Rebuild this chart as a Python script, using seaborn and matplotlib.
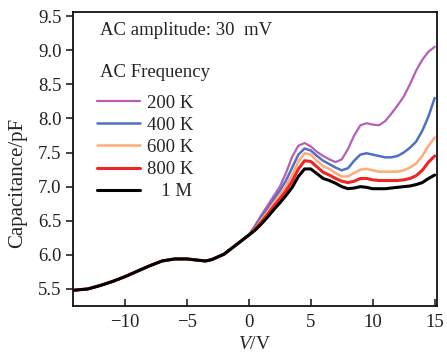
import numpy as np
import pandas as pd
import matplotlib
matplotlib.use("Agg")
import matplotlib.pyplot as plt
import seaborn as sns

voltage = [-14.2, -13, -12, -11, -10, -9, -8, -7, -6, -5, -4, -3.5, -3, -2, -1, 0,
           0.5, 1, 1.5, 2, 2.5, 3, 3.5, 4, 4.5, 5, 5.5, 6, 6.5, 7, 7.5, 8, 8.5, 9,
           9.5, 10, 10.5, 11, 11.5, 12, 12.5, 13, 13.5, 14, 14.5, 15]

common = [5.48, 5.50, 5.55, 5.61, 5.68, 5.76, 5.84, 5.91, 5.94, 5.94, 5.92, 5.91,
          5.93, 6.01, 6.15, 6.29]

c_200k = common + [6.43, 6.58, 6.72, 6.86, 7.00, 7.20, 7.44, 7.60, 7.64, 7.59, 7.51,
                   7.45, 7.40, 7.36, 7.40, 7.55, 7.75, 7.90, 7.93, 7.91, 7.90, 7.96,
                   8.07, 8.19, 8.32, 8.50, 8.70, 8.86, 8.98, 9.05]
c_400k = common + [6.41, 6.54, 6.67, 6.81, 6.94, 7.09, 7.28, 7.47, 7.56, 7.53, 7.45,
                   7.38, 7.33, 7.28, 7.24, 7.27, 7.38, 7.47, 7.49, 7.47, 7.45, 7.43,
                   7.43, 7.45, 7.50, 7.57, 7.66, 7.82, 8.03, 8.30]
c_600k = common + [6.39, 6.51, 6.63, 6.76, 6.88, 7.01, 7.17, 7.37, 7.49, 7.47, 7.38,
                   7.30, 7.26, 7.20, 7.15, 7.15, 7.20, 7.25, 7.26, 7.24, 7.22, 7.22,
                   7.22, 7.22, 7.24, 7.28, 7.34, 7.45, 7.60, 7.72]
c_800k = common + [6.38, 6.48, 6.59, 6.71, 6.82, 6.94, 7.08, 7.26, 7.38, 7.37, 7.29,
                   7.21, 7.17, 7.12, 7.08, 7.06, 7.08, 7.12, 7.12, 7.10, 7.09, 7.09,
                   7.09, 7.09, 7.10, 7.12, 7.16, 7.24, 7.36, 7.45]
c_1m = common + [6.36, 6.45, 6.55, 6.66, 6.76, 6.87, 6.99, 7.15, 7.26, 7.26, 7.19,
                 7.12, 7.09, 7.05, 7.00, 6.97, 6.98, 7.00, 6.99, 6.97, 6.97, 6.97,
                 6.98, 6.99, 7.00, 7.01, 7.03, 7.06, 7.12, 7.17]

labels = ["200 K", "400 K", "600 K", "800 K", "   1 M"]
series = [c_200k, c_400k, c_600k, c_800k, c_1m]
colors = ["#b65fb8", "#4f70c6", "#ffab78", "#f02424", "#000000"]
widths = [1.6, 1.8, 1.8, 2.2, 2.2]

frames = []
for lab, vals in zip(labels, series):
    frames.append(pd.DataFrame({"V": voltage, "C": vals, "freq": lab}))
df = pd.concat(frames, ignore_index=True)

sns.set_style("ticks")
plt.rcParams["font.family"] = ["Liberation Serif", "DejaVu Serif"]
plt.rcParams["mathtext.fontset"] = "custom"
plt.rcParams["mathtext.it"] = "Liberation Serif:italic"
plt.rcParams["mathtext.rm"] = "Liberation Serif"

fig = plt.figure(figsize=(4.47, 3.55), dpi=100)
ax = fig.add_axes([0.163, 0.138, 0.815, 0.828])

for lab, col, lw in zip(labels, colors, widths):
    sub = df[df["freq"] == lab]
    sns.lineplot(data=sub, x="V", y="C", color=col, linewidth=lw, ax=ax,
                 label=lab, sort=False)

ax.set_xlim(-14.2, 15.2)
ax.set_ylim(5.25, 9.56)
ax.set_xticks([-10, -5, 0, 5, 10, 15])
ax.set_xticklabels(["\u221210", "\u22125", "0", "5", "10", "15"])
ax.set_yticks([5.5, 6.0, 6.5, 7.0, 7.5, 8.0, 8.5, 9.0, 9.5])
ax.set_yticklabels(["5.5", "6.0", "6.5", "7.0", "7.5", "8.0", "8.5", "9.0", "9.5"])
ax.tick_params(axis="x", direction="in", length=5, width=1.2, labelsize=13.5, pad=6, colors="#222222")
ax.tick_params(axis="y", direction="out", length=5, width=1.2, labelsize=13.5, pad=3, colors="#222222")
ax.tick_params(top=False, right=False)
for s in ax.spines.values():
    s.set_visible(True)
    s.set_linewidth(1.3)
    s.set_color("#111111")

ax.set_xlabel(r"$V$/V", fontsize=14, labelpad=3)
ax.set_ylabel("Capacitance/pF", fontsize=15, labelpad=6)
ax.yaxis.set_label_coords(-0.125, 0.42)

ax.text(0.074, 0.939, "AC amplitude: 30  mV", transform=ax.transAxes, fontsize=13.5,
        ha="left", va="center", color="#222222")
ax.text(0.074, 0.793, "AC Frequency", transform=ax.transAxes, fontsize=13.5,
        ha="left", va="center", color="#222222")

leg = ax.legend(loc="upper left", bbox_to_anchor=(0.045, 0.745), frameon=False,
                fontsize=13.5, handlelength=2.3, handletextpad=0.4,
                labelspacing=0.27, borderaxespad=0)

fig.savefig("out.png", dpi=100)
